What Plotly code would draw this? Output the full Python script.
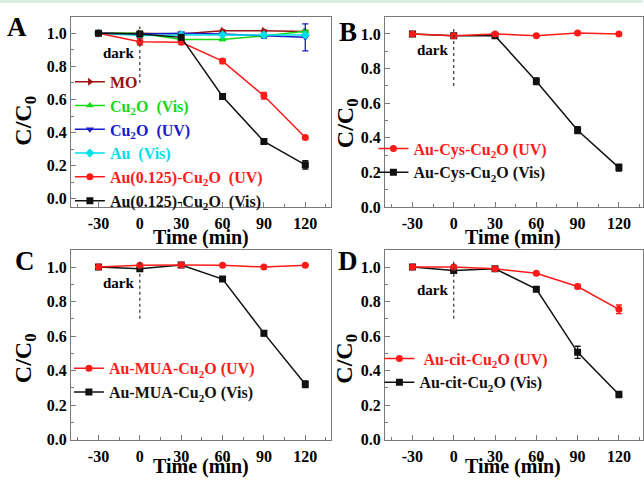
import plotly.graph_objects as go

t = [-30, 0, 30, 60, 90, 120]

# Panel A
a_mo = [1.0, 1.0, 0.995, 1.015, 1.015, 1.01]
a_mo_err = [0.004, 0.005, 0.004, 0.005, 0.005, 0.006]
a_cu_vis = [1.0, 1.0, 0.962, 0.962, 0.984, 1.012]
a_cu_vis_err = [0.004, 0.004, 0.005, 0.006, 0.006, 0.008]
a_cu_uv = [1.0, 0.995, 1.0, 0.995, 0.985, 0.975]
a_cu_uv_err = [0.004, 0.004, 0.005, 0.006, 0.015, 0.081]
a_au_vis = [1.0, 0.986, 0.99, 0.99, 0.99, 0.99]
a_au_vis_err = [0.004, 0.004, 0.004, 0.004, 0.004, 0.004]
a_auc_uv = [1.0, 0.949, 0.945, 0.832, 0.622, 0.37]
a_auc_uv_err = [0.004, 0.02, 0.01, 0.015, 0.02, 0.01]
a_auc_vis = [1.0, 0.995, 0.975, 0.618, 0.346, 0.205]
a_auc_vis_err = [0.004, 0.008, 0.008, 0.008, 0.012, 0.025]

# Panel B
b_uv = [1.0, 0.99, 1.0, 0.99, 1.005, 1.0]
b_uv_err = [0.005, 0.005, 0.006, 0.005, 0.005, 0.004]
b_vis = [1.0, 0.99, 0.99, 0.727, 0.444, 0.228]
b_vis_err = [0.005, 0.008, 0.008, 0.02, 0.02, 0.02]

# Panel C
c_uv = [1.0, 1.01, 1.012, 1.01, 1.0, 1.01]
c_uv_err = [0.005, 0.006, 0.008, 0.005, 0.005, 0.005]
c_vis = [1.0, 0.99, 1.012, 0.93, 0.617, 0.321]
c_vis_err = [0.005, 0.01, 0.008, 0.008, 0.015, 0.02]

# Panel D
d_uv = [1.0, 1.0, 0.99, 0.964, 0.887, 0.755]
d_uv_err = [0.005, 0.01, 0.006, 0.008, 0.012, 0.025]
d_vis = [1.0, 0.98, 0.99, 0.872, 0.506, 0.262]
d_vis_err = [0.005, 0.008, 0.008, 0.008, 0.035, 0.018]

x_ticks = [-30, 0, 30, 60, 90, 120]
x_ticklabels = ["-30", "0", "30", "60", "90", "120"]
y_ticks = [0.0, 0.2, 0.4, 0.6, 0.8, 1.0]
y_ticklabels = ["0.0", "0.2", "0.4", "0.6", "0.8", "1.0"]

C_MO = "#9a1010"
C_GREEN = "#19d719"
C_BLUE = "#1a1acc"
C_CYAN = "#00e0e8"
C_RED = "#ff1a1a"
C_BLACK = "#111111"

FONT = "Liberation Serif"
SP = "\u00a0"

fig = go.Figure()


def add(xa, ya, y, err, color, symbol, name, legend, size=7):
    fig.add_trace(go.Scatter(
        x=t, y=y, mode="lines+markers", xaxis=xa, yaxis=ya,
        line=dict(color=color, width=1.5),
        marker=dict(color=color, symbol=symbol, size=size),
        error_y=dict(type="data", array=err, color=color, thickness=1.3, width=3),
        name=f"<span style='color:{color}'><b>{name}</b></span>",
        legend=legend, legendgroup=f"{legend}{name}",
    ))


CU = "Cu<sub>2</sub>O"
add("x", "y", a_mo, a_mo_err, C_MO, "triangle-right", "MO", "legend")
add("x", "y", a_cu_vis, a_cu_vis_err, C_GREEN, "triangle-up", f"{CU}{SP}{SP}(Vis)", "legend")
add("x", "y", a_cu_uv, a_cu_uv_err, C_BLUE, "triangle-down", f"{CU}{SP}{SP}(UV)", "legend")
add("x", "y", a_au_vis, a_au_vis_err, C_CYAN, "diamond", f"Au{SP}{SP}(Vis)", "legend")
add("x", "y", a_auc_uv, a_auc_uv_err, C_RED, "circle", f"Au(0.125)-{CU}{SP}{SP}(UV)", "legend")
add("x", "y", a_auc_vis, a_auc_vis_err, C_BLACK, "square", f"Au(0.125)-{CU}{SP}{SP}(Vis)", "legend")

add("x2", "y2", b_vis, b_vis_err, C_BLACK, "square", f"Au-Cys-{CU} (Vis)", "legend2")
add("x2", "y2", b_uv, b_uv_err, C_RED, "circle", f"Au-Cys-{CU} (UV)", "legend2")

add("x3", "y3", c_vis, c_vis_err, C_BLACK, "square", f"Au-MUA-{CU} (Vis)", "legend3")
add("x3", "y3", c_uv, c_uv_err, C_RED, "circle", f"Au-MUA-{CU} (UV)", "legend3")

add("x4", "y4", d_vis, d_vis_err, C_BLACK, "square", f"Au-cit-{CU} (Vis)", "legend4")
add("x4", "y4", d_uv, d_uv_err, C_RED, "circle", f"{SP}Au-cit-{CU} (UV)", "legend4")

W, H = 644, 484


def px(v):
    return v / W


def py(v):
    return 1 - v / H


axis_common = dict(
    showline=True, linecolor="#7a7a7a", linewidth=1, mirror=True,
    ticks="inside", ticklen=5, tickcolor="#7a7a7a", tickwidth=1,
    showgrid=False, zeroline=False,
)

xa = dict(axis_common, tickmode="array", tickvals=x_ticks,
          ticktext=[f"<b>{s}</b>" for s in x_ticklabels], ticklabelstandoff=2,
          minor=dict(ticks="inside", ticklen=3, tickcolor="#7a7a7a", dtick=15, tick0=-45))
ya = dict(axis_common, tickmode="array", tickvals=y_ticks,
          ticktext=[f"<b>{s}</b>" for s in y_ticklabels],
          minor=dict(ticks="inside", ticklen=3, tickcolor="#7a7a7a", dtick=0.1, tick0=0))

left_dom = [px(71), px(332)]
right_dom = [px(385.5), 1.0]
top_dom = [py(211), py(17)]
bot_dom = [py(448), py(254.5)]

fig.update_layout(
    width=W, height=H, margin=dict(l=0, r=0, t=0, b=0),
    paper_bgcolor="white", plot_bgcolor="white",
    showlegend=True,
    font=dict(family=FONT, size=16, color="black"),
    xaxis=dict(xa, domain=left_dom, range=[-50, 139], anchor="y"),
    yaxis=dict(ya, domain=top_dom, range=[-0.05, 1.1], anchor="x"),
    xaxis2=dict(xa, domain=right_dom, range=[-50, 137.5], anchor="y2"),
    yaxis2=dict(ya, domain=top_dom, range=[0, 1.1], anchor="x2"),
    xaxis3=dict(xa, domain=left_dom, range=[-50, 139], anchor="y3"),
    yaxis3=dict(ya, domain=bot_dom, range=[0, 1.1], anchor="x3"),
    xaxis4=dict(xa, domain=right_dom, range=[-50, 137.5], anchor="y4"),
    yaxis4=dict(ya, domain=bot_dom, range=[0, 1.1], anchor="x4"),
)
fig.update_xaxes(tickfont=dict(family=FONT, size=16, color="black"))
fig.update_yaxes(tickfont=dict(family=FONT, size=16, color="black"))

leg_common = dict(font=dict(family=FONT, size=16, color="black"),
                  bgcolor="rgba(0,0,0,0)", borderwidth=0, xanchor="left", yanchor="top",
                  itemwidth=30, tracegroupgap=0)
fig.update_layout(
    legend=dict(leg_common, x=px(70), y=py(66)),
    legend2=dict(leg_common, x=px(374), y=py(134), traceorder="reversed"),
    legend3=dict(leg_common, x=px(69), y=py(358), traceorder="reversed"),
    legend4=dict(leg_common, x=px(380), y=py(348), traceorder="reversed"),
)

# dark markers
for xr, yr, ytxt in [("x", "y", 0.88), ("x2", "y2", 0.91), ("x3", "y3", 0.91), ("x4", "y4", 0.868)]:
    fig.add_shape(type="line", xref=xr, yref=yr, x0=0, x1=0, y0=0.7, y1=1.04,
                  line=dict(color="#333333", width=1.2, dash="dot"))
    fig.add_annotation(xref=xr, yref=yr, x=0, y=ytxt, text="<b>dark</b>", showarrow=False,
                       xanchor="right", xshift=-3,
                       font=dict(family=FONT, size=15, color="black"))

# panel letters
for lx, ly, lt in [(17, 28, "A"), (349, 33, "B"), (25, 266, "C"), (349, 266, "D")]:
    fig.add_annotation(xref="paper", yref="paper", x=px(lx), y=py(ly), text=f"<b>{lt}</b>",
                       showarrow=False, xanchor="center", yanchor="middle",
                       font=dict(family=FONT, size=27, color="black"))

# axis titles
for cx, cy in [(201, 242), (514, 242), (201, 475), (514, 475)]:
    fig.add_annotation(xref="paper", yref="paper", x=px(cx), y=py(cy), text="<b>Time (min)</b>",
                       showarrow=False, xanchor="center", yanchor="middle",
                       font=dict(family=FONT, size=20, color="black"))
for cx, cy in [(25, 123), (347, 125), (25, 365), (347, 365)]:
    fig.add_annotation(xref="paper", yref="paper", x=px(cx), y=py(cy),
                       text="<b>C/C<sub>0</sub></b>",
                       showarrow=False, xanchor="center", yanchor="middle", textangle=-90,
                       font=dict(family=FONT, size=24, color="black"))

# thin light-green strip along the top edge
fig.add_shape(type="rect", xref="paper", yref="paper", x0=0, x1=1, y0=py(3), y1=1,
              fillcolor="#dcefe2", line=dict(width=0), layer="below")

# remove the browser's default 8px body margin so the figure fills the window exactly
fig.write_html("out.html", config={"displayModeBar": False},
               post_script="document.body.style.margin='0px';")
